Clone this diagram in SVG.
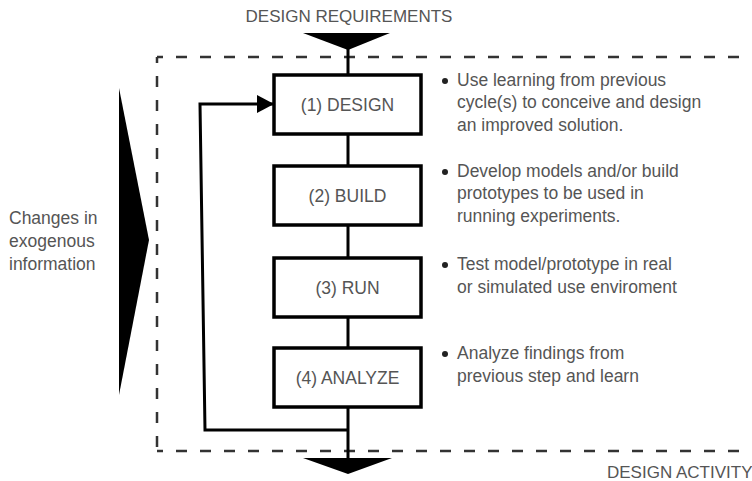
<svg xmlns="http://www.w3.org/2000/svg" width="752" height="481" viewBox="0 0 752 481">
<style>
text{font-family:"Liberation Sans",Arial,sans-serif;font-size:17.5px;fill:#555}
.box{fill:#fff;stroke:#000;stroke-width:3.5}
.lbl{text-anchor:middle}
.dash{fill:none;stroke:#333;stroke-width:2.5;stroke-dasharray:11 13;stroke-dashoffset:5}
.wire{fill:none;stroke:#000;stroke-width:3}
</style>
<defs>
<marker id="ah" markerWidth="17" markerHeight="18" refX="17" refY="9" orient="auto" markerUnits="userSpaceOnUse">
<path d="M0,0 L17,9 L0,18 Z" fill="#000"/>
</marker>
</defs>
<rect width="752" height="481" fill="#fff"/>
<g id="frame">
<line class="dash" x1="157" y1="57" x2="760" y2="57"/>
<line class="dash" x1="157" y1="57" x2="157" y2="451"/>
<line class="dash" x1="157" y1="451" x2="760" y2="451"/>
</g>
<g id="connectors">
<line class="wire" x1="348" y1="40" x2="348" y2="462"/>
<polyline class="wire" points="348,430 205,430 200,104 274,104" marker-end="url(#ah)"/>
<path d="M303,33 L390,33 L348,50 Z" fill="#000"/>
<path d="M303,458 L392,458 L348,474 Z" fill="#000"/>
<path d="M119,88 L149,240 L119,395 Z" fill="#000"/>
</g>
<g id="design"><rect class="box" x="274" y="75" width="147" height="59"/><text class="lbl" x="347.5" y="111">(1) DESIGN</text></g>
<g id="build"><rect class="box" x="274" y="166" width="147" height="59"/><text class="lbl" x="347.5" y="202">(2) BUILD</text></g>
<g id="run"><rect class="box" x="274" y="258" width="147" height="59"/><text class="lbl" x="347.5" y="294">(3) RUN</text></g>
<g id="analyze"><rect class="box" x="274" y="348" width="147" height="59"/><text class="lbl" x="347.5" y="384">(4) ANALYZE</text></g>
<g id="labels">
<text x="349" y="22" class="lbl" style="font-size:17px">DESIGN REQUIREMENTS</text>
<text x="607" y="478" style="font-size:17px">DESIGN ACTIVITY</text>
<text x="9" y="224">Changes in</text>
<text x="9" y="247">exogenous</text>
<text x="9" y="270">information</text>
</g>
<g id="notes" fill="#222">
<circle cx="445" cy="81" r="3"/>
<text x="457" y="86">Use learning from previous</text>
<text x="457" y="108">cycle(s) to conceive and design</text>
<text x="457" y="131">an improved solution.</text>
<circle cx="445" cy="172" r="3"/>
<text x="457" y="177">Develop models and/or build</text>
<text x="457" y="199">prototypes to be used in</text>
<text x="457" y="222">running experiments.</text>
<circle cx="445" cy="265" r="3"/>
<text x="457" y="270">Test model/prototype in real</text>
<text x="457" y="293">or simulated use enviroment</text>
<circle cx="445" cy="354" r="3"/>
<text x="457" y="359">Analyze findings from</text>
<text x="457" y="382">previous step and learn</text>
</g>
</svg>
